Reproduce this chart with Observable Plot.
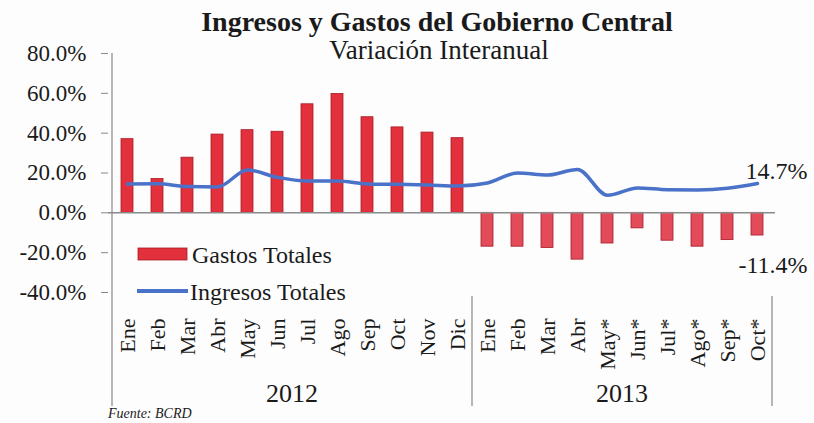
<!DOCTYPE html>
<html><head><meta charset="utf-8">
<script src="https://cdn.jsdelivr.net/npm/d3@7"></script>
<script src="https://cdn.jsdelivr.net/npm/@observablehq/plot@0.6"></script>
<style>
body{margin:0;background:#fdfdfd;}
#wrap{width:814px;height:423px;}
</style></head>
<body><div id="wrap"></div>
<script>
const title = "Ingresos y Gastos del Gobierno Central";
const subtitle = "Variación Interanual";
const source = "Fuente: BCRD";
const years = ["2012", "2013"];
const months2012 = ["Ene","Feb","Mar","Abr","May","Jun","Jul","Ago","Sep","Oct","Nov","Dic"];
const months2013 = ["Ene","Feb","Mar","Abr","May*","Jun*","Jul*","Ago*","Sep*","Oct*"];
const gastos2012 = [37.0, 17.0, 27.7, 39.3, 41.5, 40.7, 54.5, 59.7, 48.0, 42.9, 40.3, 37.5];
const gastos2013 = [-17.0, -17.0, -17.7, -23.5, -15.4, -7.8, -14.0, -17.0, -13.7, -11.4];
const ingresos2012 = [14.5, 14.6, 13.2, 13.0, 21.5, 17.8, 16.0, 16.0, 14.5, 14.3, 14.0, 13.5];
const ingresos2013 = [15.0, 20.0, 19.0, 21.8, 8.8, 12.5, 11.6, 11.5, 12.3, 14.7];
const yTicks = [-40, -20, 0, 20, 40, 60, 80];
const seriesNames = ["Gastos Totales", "Ingresos Totales"];

const FONT = '"Liberation Serif", "DejaVu Serif", serif';
const RED = "#e2303d", RED2 = "#e34a5a", REDSTROKE = "#a81c27", BLUE = "#4a72c9";

const rows = [];
months2012.forEach((m, i) => rows.push({key: "2012 " + m, month: m, year: "2012", gastos: gastos2012[i], ingresos: ingresos2012[i]}));
months2013.forEach((m, i) => rows.push({key: "2013 " + m, month: m, year: "2013", gastos: gastos2013[i], ingresos: ingresos2013[i]}));
const keys = rows.map(d => d.key);
const last = rows[rows.length - 1];
const pct = v => v.toFixed(1) + "%";

const plot = Plot.plot({
  width: 814, height: 423,
  marginLeft: 108, marginRight: 39, marginTop: 53, marginBottom: 131,
  style: {fontFamily: FONT, background: "transparent", color: "#1a1a1a", overflow: "visible"},
  x: {domain: keys, padding: 0, axis: null},
  y: {domain: [-40, 80], axis: null},
  marks: [
    Plot.axisY({ticks: yTicks, tickFormat: pct, tickSize: 7, tickPadding: 15, fontSize: 23, stroke: "#888", fill: "#1a1a1a", label: null}),
    Plot.axisX({anchor: "bottom", tickRotate: -90, tickSize: 0, tickPadding: 26, fontSize: 22,
      tickFormat: k => k.split(" ")[1], fill: "#1a1a1a", label: null}),
    Plot.barY(rows, {x: "key", y: "gastos", fill: d => d.year === "2012" ? RED : RED2,
      stroke: REDSTROKE, strokeWidth: 0.8, insetLeft: 9, insetRight: 9}),
    Plot.ruleY([0], {stroke: "#8a8a8a", strokeWidth: 1.5}),
    Plot.lineY(rows, {x: "key", y: "ingresos", stroke: BLUE, strokeWidth: 3.5, curve: "monotone-x"}),
    Plot.text([last], {x: "key", y: "ingresos", text: d => pct(d.ingresos), dx: 50, dy: -12,
      textAnchor: "end", fontSize: 24, fill: "#1a1a1a"}),
    Plot.text([last], {x: "key", y: "gastos", text: d => pct(d.gastos), dx: 50, dy: 30,
      textAnchor: "end", fontSize: 24, fill: "#1a1a1a"})
  ]
});
document.getElementById("wrap").appendChild(plot);

const svg = d3.select(plot);
const xs = plot.scale("x");
const ys = plot.scale("y");
const bw = xs.bandwidth;
const x0 = xs.apply(keys[0]);
const xEnd = xs.apply(keys[keys.length - 1]) + bw;
const yTop = ys.apply(80);
const g = svg.append("g").attr("font-family", FONT).attr("fill", "#1a1a1a").attr("text-anchor", "start");

// axis line and group separators
g.append("line").attr("x1", x0).attr("x2", x0).attr("y1", yTop).attr("y2", 406).attr("stroke", "#888").attr("stroke-width", 1.2);
const sepX = xs.apply("2013 Ene");
[sepX, xEnd].forEach(x => g.append("line").attr("x1", x).attr("x2", x).attr("y1", 296).attr("y2", 406).attr("stroke", "#888").attr("stroke-width", 1.2));

// year labels
years.forEach(yr => {
  const ks = keys.filter(k => k.startsWith(yr));
  const a = xs.apply(ks[0]), b = xs.apply(ks[ks.length - 1]) + bw;
  g.append("text").attr("x", (a + b) / 2).attr("y", 402).attr("text-anchor", "middle").attr("font-size", 26).text(yr);
});

// title, subtitle, source
g.append("text").attr("x", 437).attr("y", 31).attr("text-anchor", "middle").attr("font-size", 28).attr("font-weight", "bold").text(title);
g.append("text").attr("x", 439).attr("y", 59).attr("text-anchor", "middle").attr("font-size", 27).text(subtitle);
g.append("text").attr("x", 108).attr("y", 418).attr("font-size", 14).attr("font-style", "italic").text(source);

// legend
g.append("rect").attr("x", 138).attr("y", 248).attr("width", 49).attr("height", 12).attr("fill", RED).attr("stroke", REDSTROKE).attr("stroke-width", 0.8);
g.append("text").attr("x", 192).attr("y", 263).attr("font-size", 24).text(seriesNames[0]);
g.append("line").attr("x1", 137).attr("x2", 188).attr("y1", 291).attr("y2", 291).attr("stroke", BLUE).attr("stroke-width", 4);
g.append("text").attr("x", 190).attr("y", 300).attr("font-size", 24).text(seriesNames[1]);
</script>
</body></html>
